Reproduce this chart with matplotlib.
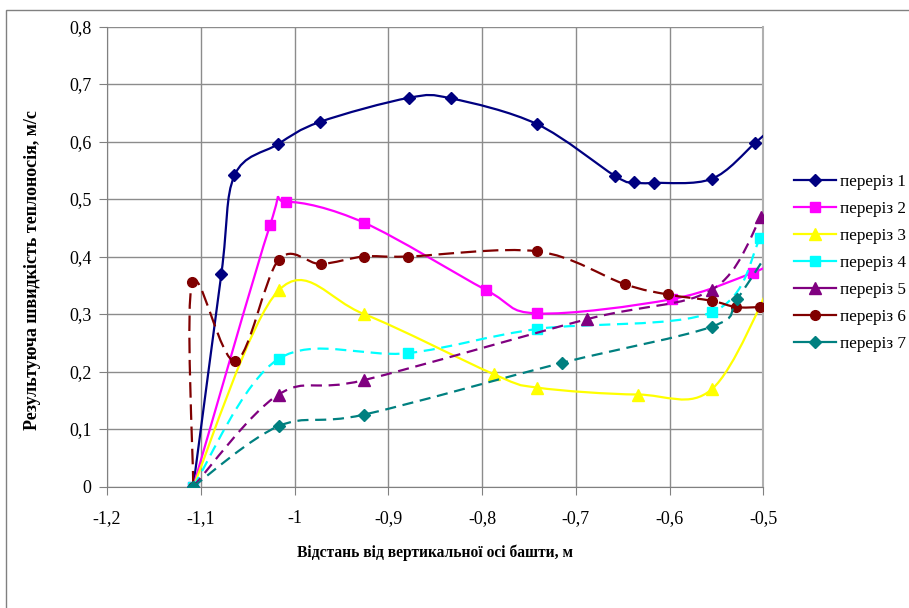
import matplotlib
matplotlib.use('Agg')
import matplotlib.pyplot as plt
from matplotlib.path import Path
from matplotlib.patches import PathPatch, Rectangle
from matplotlib.lines import Line2D

plt.rcParams['font.family'] = ['Liberation Serif', 'DejaVu Serif']
plt.rcParams['font.size'] = 12
plt.rcParams['axes.unicode_minus'] = False

# --- data (last point of each series lies just past -0,5) ---
x1 = [-1.108, -1.078, -1.064, -1.018, -0.973, -0.878, -0.833, -0.741, -0.658, -0.638, -0.617, -0.555, -0.509, -0.490]
y1 = [0.000, 0.370, 0.541, 0.595, 0.634, 0.676, 0.675, 0.630, 0.540, 0.529, 0.528, 0.535, 0.597, 0.625]

x2 = [-1.108, -1.026, -1.009, -0.926, -0.796, -0.741, -0.597, -0.511, -0.490]
y2 = [0.000, 0.455, 0.495, 0.459, 0.342, 0.301, 0.326, 0.372, 0.390]

x3 = [-1.108, -1.017, -0.926, -0.787, -0.741, -0.634, -0.555, -0.490]
y3 = [0.000, 0.341, 0.300, 0.195, 0.172, 0.160, 0.169, 0.360]

x4 = [-1.108, -1.017, -0.879, -0.741, -0.555, -0.503, -0.490]
y4 = [0.000, 0.222, 0.232, 0.274, 0.303, 0.432, 0.460]

x5 = [-1.108, -1.017, -0.926, -0.688, -0.555, -0.502, -0.490]
y5 = [0.000, 0.160, 0.185, 0.291, 0.342, 0.469, 0.500]

x6 = [-1.108, -1.109, -1.063, -1.017, -0.972, -0.926, -0.879, -0.741, -0.648, -0.602, -0.555, -0.529, -0.503, -0.490]
y6 = [0.000, 0.355, 0.218, 0.394, 0.387, 0.400, 0.400, 0.409, 0.352, 0.334, 0.323, 0.312, 0.312, 0.312]

x7 = [-1.108, -1.017, -0.926, -0.715, -0.555, -0.528, -0.490]
y7 = [0.000, 0.105, 0.125, 0.215, 0.278, 0.326, 0.420]

nomes = ['переріз 1', 'переріз 2', 'переріз 3', 'переріз 4', 'переріз 5', 'переріз 6', 'переріз 7']
cores = ['#000080', '#FF00FF', '#FFFF00', '#00FFFF', '#800080', '#800000', '#008080']
marcadores = ['D', 's', '^', 's', '^', 'o', 'D']
tamanhos = [6, 7, 8, 7, 8, 7, 6.2]
estilos = ['-', '-', '-', (0, (5, 3)), (0, (5, 3)), (0, (7, 3)), (0, (5, 3))]

series = [(x1, y1), (x2, y2), (x3, y3), (x4, y4), (x5, y5), (x6, y6), (x7, y7)]


def curva_suave(xs, ys):
    # Excel-like smoothed line: cubic Bezier through the points
    pts = list(zip(xs, ys))
    n = len(pts)
    verts = [pts[0]]
    codes = [Path.MOVETO]
    for i in range(n - 1):
        p0 = pts[i - 1] if i > 0 else pts[i]
        p1 = pts[i]
        p2 = pts[i + 1]
        p3 = pts[i + 2] if i + 2 < n else pts[i + 1]
        c1 = (p1[0] + (p2[0] - p0[0]) / 6, p1[1] + (p2[1] - p0[1]) / 6)
        c2 = (p2[0] - (p3[0] - p1[0]) / 6, p2[1] - (p3[1] - p1[1]) / 6)
        verts += [c1, c2, p2]
        codes += [Path.CURVE4] * 3
    return Path(verts, codes)


fig = plt.figure(figsize=(9.09, 6.08), dpi=100)
ax = fig.add_axes([0.1177, 0.1998, 0.7220, 0.7566])

handles = []
for k, (xs, ys) in enumerate(series):
    patch = PathPatch(curva_suave(xs, ys), fill=False, edgecolor=cores[k], lw=1.6,
                      linestyle=estilos[k], zorder=3 + k)
    ax.add_patch(patch)
    ax.plot(xs, ys, linestyle='none', marker=marcadores[k], markersize=tamanhos[k],
            color=cores[k], markeredgecolor=cores[k], zorder=3.5 + k)
    handles.append(Line2D([], [], color=cores[k], lw=1.6, linestyle='-',
                          marker=marcadores[k], markersize=tamanhos[k]))

ax.set_xlim(-1.2, -0.5)
ax.set_ylim(0, 0.8)
ax.set_xticks([-1.2, -1.1, -1.0, -0.9, -0.8, -0.7, -0.6, -0.5])
ax.set_yticks([0, 0.1, 0.2, 0.3, 0.4, 0.5, 0.6, 0.7, 0.8])
ax.set_xticklabels(['-1,2', '-1,1', '-1', '-0,9', '-0,8', '-0,7', '-0,6', '-0,5'])
ax.set_yticklabels(['0', '0,1', '0,2', '0,3', '0,4', '0,5', '0,6', '0,7', '0,8'])
ax.tick_params(direction='out', length=6, color='#808080', labelsize=13)
ax.tick_params(axis='x', pad=11)
ax.tick_params(axis='y', pad=5)

ax.grid(True, color='#8c8c8c', linewidth=1.0)
ax.set_axisbelow(True)
for lado in ['top', 'right']:
    ax.spines[lado].set_visible(False)
ax.spines['left'].set_color('#808080')
ax.spines['bottom'].set_color('#808080')
ax.spines['right'].set_visible(True)
ax.spines['right'].set_color('#b0b0b0')
ax.spines['right'].set_linewidth(1.5)

ax.set_xlabel('Відстань від вертикальної осі башти, м', fontsize=11.2, fontweight='bold')
ax.xaxis.set_label_coords(0.5, -0.126)
ax.set_ylabel('Результуюча швидкість теплоносія, м/с', fontsize=13, fontweight='bold')
ax.yaxis.set_label_coords(-0.1, 0.471)

fig.legend(handles, nomes, loc='upper left', bbox_to_anchor=(0.8655, 0.7245),
           frameon=False, fontsize=12.3, handlelength=2.5, handletextpad=0.2,
           labelspacing=0.64, borderaxespad=0)

# moldura externa do gráfico (só esquerda e topo ficam visíveis)
fig.patches.append(Rectangle((0.0066, -0.05), 1.2, 1.0336, transform=fig.transFigure,
                             fill=False, edgecolor='#808080', linewidth=1.0))

plt.savefig('out.png', dpi=100)
